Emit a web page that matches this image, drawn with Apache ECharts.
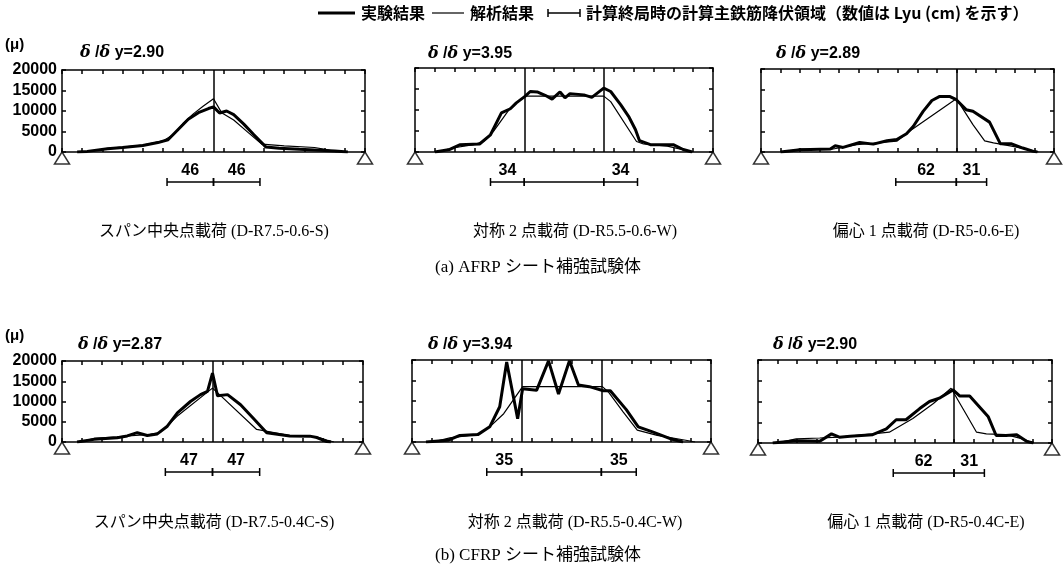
<!DOCTYPE html>
<html><head><meta charset="utf-8">
<script src="https://cdn.jsdelivr.net/npm/echarts@6/dist/echarts.min.js"></script>
<style>html,body{margin:0;padding:0;background:#fff}#c{width:1063px;height:565px}</style>
</head><body><div id="c"></div>
<script>
// ---------- data ----------
const span = 300;               // cm
const strainMax = 20000;        // μ
const strainStep = 5000;
const posStep = 20;
const supports = [[0, 0], [300, 0]];
const ratios = ['2.90', '3.95', '2.89', '2.87', '3.94', '2.90'];
const captions = [
  'スパン中央点載荷 (D-R7.5-0.6-S)', '対称 2 点載荷 (D-R5.5-0.6-W)', '偏心 1 点載荷 (D-R5-0.6-E)',
  'スパン中央点載荷 (D-R7.5-0.4C-S)', '対称 2 点載荷 (D-R5.5-0.4C-W)', '偏心 1 点載荷 (D-R5-0.4C-E)'
];
const groupTitles = ['(a) AFRP シート補強試験体', '(b) CFRP シート補強試験体'];
const legendNames = ['実験結果', '解析結果', '計算終局時の計算主鉄筋降伏領域（数値は Lyu (cm) を示す）'];

const loads1 = [150], loads2 = [110, 190], loads3 = [200];
const loads4 = [150], loads5 = [110, 190], loads6 = [200];

const exp1 = [[15,0],[25,150],[45,800],[60,1100],[80,1600],[95,2300],[105,3000],[115,5500],[125,8000],[135,9600],[145,10600],[150,11000],[156,9500],[163,10000],[170,9100],[180,6800],[190,4200],[202,1200],[215,900],[235,650],[255,450],[270,250],[283,0]];
const ana1 = [[20,0],[32,300],[45,900],[60,1200],[80,1700],[100,2700],[110,4200],[120,7000],[130,9300],[140,11200],[150,13000],[158,9600],[170,7800],[185,4600],[198,1900],[220,1500],[250,1100],[262,600],[272,0]];

const exp2 = [[20,0],[35,600],[45,1700],[65,1900],[76,4100],[87,9300],[96,10300],[102,11700],[111,13300],[116,14400],[123,14300],[131,13500],[138,12600],[146,14300],[151,12900],[156,13900],[170,13600],[178,13000],[190,15200],[197,14400],[207,11300],[215,8500],[222,5300],[226,2700],[237,1750],[260,1750],[270,600],[279,0]];
const ana2 = [[22,0],[38,950],[59,1750],[69,2500],[79,4900],[96,10500],[111,13300],[190,13300],[197,12000],[223,2500],[230,1900],[254,1400],[274,300],[280,0]];

const exp3 = [[20,0],[40,560],[71,700],[76,1500],[84,1100],[101,2300],[115,1900],[129,2700],[139,3000],[149,4400],[156,6200],[166,9800],[175,12400],[183,13400],[193,13400],[200,12600],[210,10200],[217,9800],[234,7200],[245,2000],[256,2000],[268,950],[279,150],[283,0]];
const ana3 = [[23,0],[40,700],[71,600],[98,1750],[139,2600],[152,5000],[200,12850],[217,6600],[229,2700],[238,2200],[258,1350],[279,300],[284,0]];

const exp4 = [[15,0],[32,650],[55,1050],[65,1500],[75,2300],[85,1600],[95,2000],[105,3900],[115,7200],[128,10000],[138,11700],[145,12500],[150,17000],[155,11400],[165,11700],[178,9200],[192,5500],[204,2300],[227,1500],[247,1450],[254,1100],[264,100],[268,0]];
const ana4 = [[18,0],[32,900],[55,1300],[88,1900],[98,2400],[115,6400],[150,13300],[157,11700],[194,3100],[227,1600],[254,1300],[264,500],[271,0]];

const exp5 = [[14,0],[36,400],[48,1600],[66,1800],[78,3700],[88,8600],[95,19500],[106,5700],[111,13000],[125,12600],[137,19800],[147,11700],[158,19800],[167,13900],[178,13500],[192,12500],[199,12500],[215,7900],[227,3700],[242,2400],[259,800],[272,0]];
const ana5 = [[21,0],[38,1000],[58,1600],[68,2000],[78,3700],[92,6900],[111,13500],[191,13500],[197,12200],[212,7300],[226,2900],[246,1600],[279,250],[284,0]];

const exp6 = [[15,0],[39,550],[63,400],[75,2200],[83,1400],[94,1600],[117,2000],[131,3400],[141,5600],[151,5600],[165,8300],[175,10000],[185,10800],[199,12800],[206,11300],[216,11300],[235,6300],[243,1800],[253,1800],[264,2000],[274,400],[281,0]];
const ana6 = [[19,0],[39,1000],[63,1200],[83,1400],[117,2200],[134,2600],[158,5900],[179,9500],[197,13200],[212,7100],[223,2600],[233,2200],[253,2000],[270,1000],[281,0]];

const yield1 = [[104,150,'46'],[150,196,'46']];
const yield2 = [[76,110,'34'],[110,190,''],[190,224,'34']];
const yield3 = [[138,200,'62'],[200,231,'31']];
const yield4 = [[103,150,'47'],[150,197,'47']];
const yield5 = [[75,110,'35'],[110,190,''],[190,225,'35']];
const yield6 = [[138,200,'62'],[200,231,'31']];

// ---------- layout ----------
const panels = [
  {exp: exp1, ana: ana1, loads: loads1, yz: yield1, box: {left: 62, top: 70, width: 303, height: 82}, labels: true, tx: 80, ty: 53, cx: 214, cy: 232},
  {exp: exp2, ana: ana2, loads: loads2, yz: yield2, box: {left: 415, top: 68, width: 298, height: 84}, labels: false, tx: 428, ty: 54, cx: 575, cy: 232},
  {exp: exp3, ana: ana3, loads: loads3, yz: yield3, box: {left: 761, top: 69, width: 293, height: 83}, labels: false, tx: 776, ty: 54, cx: 926, cy: 232},
  {exp: exp4, ana: ana4, loads: loads4, yz: yield4, box: {left: 62, top: 361, width: 301, height: 81}, labels: true, tx: 78, ty: 345, cx: 214, cy: 523},
  {exp: exp5, ana: ana5, loads: loads5, yz: yield5, box: {left: 412, top: 360, width: 299, height: 82}, labels: false, tx: 428, ty: 345, cx: 575, cy: 523},
  {exp: exp6, ana: ana6, loads: loads6, yz: yield6, box: {left: 758, top: 360, width: 294, height: 83}, labels: false, tx: 773, ty: 345, cx: 926, cy: 523}
];

const black = '#000';
const boldSans = 'Liberation Sans';
const capFont = '"Liberation Serif", "Noto Sans CJK JP"';

const option = {animation: false, backgroundColor: '#fff', grid: [], xAxis: [], yAxis: [], series: [], graphic: []};

panels.forEach((p, i) => {
  option.grid.push(Object.assign({show: false}, p.box));
  const bx = {
    gridIndex: i, type: 'value', min: 0, max: span, interval: posStep, position: 'bottom',
    axisLine: {show: true, onZero: false, lineStyle: {color: black, width: 1.5}},
    axisTick: {show: true, inside: true, length: 4, lineStyle: {color: black, width: 1.5}},
    axisLabel: {show: false}, splitLine: {show: false}
  };
  option.xAxis.push(bx, Object.assign({}, bx, {position: 'top'}));
  const ly = {
    gridIndex: i, type: 'value', min: 0, max: strainMax, interval: strainStep, position: 'left',
    axisLine: {show: true, onZero: false, lineStyle: {color: black, width: 1.5}},
    axisTick: {show: true, inside: true, length: 4, lineStyle: {color: black, width: 1.5}},
    axisLabel: {show: p.labels, color: black, fontWeight: 'bold', fontSize: 16, fontFamily: boldSans, margin: 5,
      formatter: v => String(v)},
    splitLine: {show: false}
  };
  option.yAxis.push(ly, Object.assign({}, ly, {position: 'right', axisLabel: {show: false}}));
  const xi = 2 * i, yi = 2 * i;
  option.series.push({
    type: 'line', xAxisIndex: xi, yAxisIndex: yi, data: p.exp, symbol: 'none', silent: true,
    lineStyle: {color: black, width: 3}, z: 3,
    markLine: {
      silent: true, symbol: ['none', 'none'], label: {show: false},
      lineStyle: {color: black, width: 1.5, type: 'solid'},
      data: p.loads.map(v => ({xAxis: v}))
    }
  });
  option.series.push({
    type: 'line', xAxisIndex: xi, yAxisIndex: yi, data: p.ana, symbol: 'none', silent: true,
    lineStyle: {color: black, width: 1.2}, z: 4
  });
  option.series.push({
    type: 'scatter', xAxisIndex: xi, yAxisIndex: yi, data: supports, clip: false, silent: true,
    symbol: 'triangle', symbolSize: [15, 12], symbolOffset: [0, 6],
    itemStyle: {color: '#fff', borderColor: black, borderWidth: 1.5}, z: 5
  });
  const yz = p.yz;
  option.series.push({
    type: 'custom', xAxisIndex: xi, yAxisIndex: yi, clip: false, silent: true,
    data: yz.map(s => [s[0], s[1]]), encode: {x: [0, 1]},
    renderItem: function (params, api) {
      const a = api.coord([api.value(0), 0]);
      const b = api.coord([api.value(1), 0]);
      const y = a[1] + 30;
      const st = {stroke: black, lineWidth: 1.5};
      return {type: 'group', children: [
        {type: 'line', shape: {x1: a[0], y1: y, x2: b[0], y2: y}, style: st},
        {type: 'line', shape: {x1: a[0], y1: y - 4, x2: a[0], y2: y + 4}, style: st},
        {type: 'line', shape: {x1: b[0], y1: y - 4, x2: b[0], y2: y + 4}, style: st},
        {type: 'text', x: (a[0] + b[0]) / 2, y: y - 11, style: {
          text: yz[params.dataIndex][2], fill: black, align: 'center', verticalAlign: 'middle',
          font: 'bold 16px ' + boldSans}}
      ]};
    }
  });
  option.graphic.push({
    type: 'text', x: p.tx, y: p.ty, silent: true,
    style: {
      text: '{d|δ}{n| /}{d|δ}{n| y=' + ratios[i] + '}', verticalAlign: 'middle',
      rich: {
        d: {font: 'italic bold 16px "DejaVu Serif"', fill: black},
        n: {font: 'bold 16px ' + boldSans, fill: black}
      }
    }
  });
  option.graphic.push({
    type: 'text', x: p.cx, y: p.cy, silent: true,
    style: {text: captions[i], font: '16px ' + capFont, fill: black, align: 'center', verticalAlign: 'middle'}
  });
  if (p.labels) {
    option.graphic.push({
      type: 'text', x: 5, y: p.box.top - 25, silent: true,
      style: {text: '(μ)', font: 'bold 15px ' + boldSans, fill: black, verticalAlign: 'middle'}
    });
  }
});

option.graphic.push(
  {type: 'text', x: 538, y: 268, silent: true, style: {text: groupTitles[0], font: '17px ' + capFont, fill: black, align: 'center', verticalAlign: 'middle'}},
  {type: 'text', x: 538, y: 556, silent: true, style: {text: groupTitles[1], font: '17px ' + capFont, fill: black, align: 'center', verticalAlign: 'middle'}}
);

// legend
const lgY = 13;
const lgFont = 'bold 16px "Noto Sans CJK JP"';
option.graphic.push(
  {type: 'line', silent: true, shape: {x1: 318, y1: lgY, x2: 355, y2: lgY}, style: {stroke: black, lineWidth: 3}},
  {type: 'text', x: 361, y: lgY, silent: true, style: {text: legendNames[0], font: lgFont, fill: black, verticalAlign: 'middle'}},
  {type: 'line', silent: true, shape: {x1: 432, y1: lgY, x2: 464, y2: lgY}, style: {stroke: black, lineWidth: 1.2}},
  {type: 'text', x: 470, y: lgY, silent: true, style: {text: legendNames[1], font: lgFont, fill: black, verticalAlign: 'middle'}},
  {type: 'line', silent: true, shape: {x1: 548, y1: lgY, x2: 580, y2: lgY}, style: {stroke: black, lineWidth: 1.5}},
  {type: 'line', silent: true, shape: {x1: 548, y1: lgY - 4, x2: 548, y2: lgY + 4}, style: {stroke: black, lineWidth: 1.5}},
  {type: 'line', silent: true, shape: {x1: 580, y1: lgY - 4, x2: 580, y2: lgY + 4}, style: {stroke: black, lineWidth: 1.5}},
  {type: 'text', x: 586, y: lgY, silent: true, style: {text: legendNames[2], font: lgFont, fill: black, verticalAlign: 'middle'}}
);

const chart = echarts.init(document.getElementById('c'), null, {renderer: 'canvas'});
chart.setOption(option);
</script>
</body></html>
